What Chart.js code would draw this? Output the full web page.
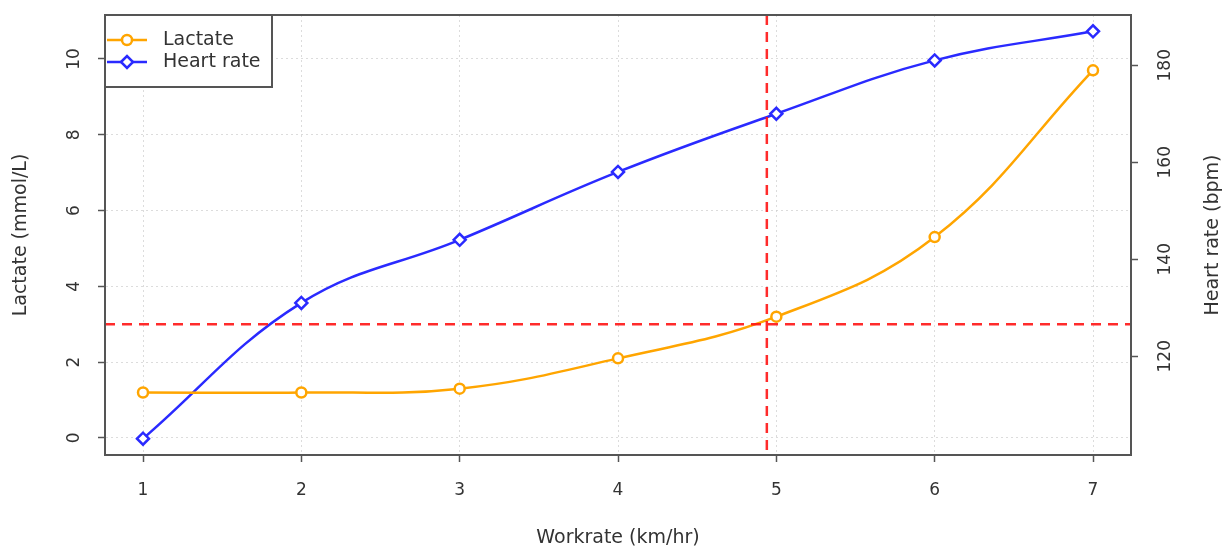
<!DOCTYPE html>
<html><head><meta charset="utf-8">
<script src="https://cdn.jsdelivr.net/npm/chart.js@4.4.0/dist/chart.umd.min.js"></script>
<style>html,body{margin:0;padding:0;background:#fff}#wrap{width:1225px;height:546px;position:relative}</style>
</head><body><div id="wrap"><canvas id="c"></canvas></div>
<script>
// ---- data ----
const workrate = [1, 2, 3, 4, 5, 6, 7];
const lactate = [1.2, 1.2, 1.3, 2.1, 3.2, 5.3, 9.7];
const heartRate = [103, 131, 144, 158, 170, 181, 187];
const xTicks = [1, 2, 3, 4, 5, 6, 7];
const lactateTicks = [0, 2, 4, 6, 8, 10];
const hrTicks = [120, 140, 160, 180];
const lactateThreshold = [3];
const thresholdWorkrate = [4.94];
const seriesNames = ['Lactate', 'Heart rate'];
const axisTitles = ['Workrate (km/hr)', 'Lactate (mmol/L)', 'Heart rate (bpm)'];

const FONT = 'DejaVu Sans';
const TXT = '#333';
const FRAME = '#555';
const TICK_SIZE = 17;
const TITLE_SIZE = 19;
Chart.defaults.font.family = FONT;
Chart.defaults.color = TXT;

const gridCommon = {color: 'rgba(205,205,205,0.7)', lineWidth: 1, tickLength: 7, tickColor: FRAME, tickWidth: 1.5};

const overlay = {
  id: 'overlay',
  afterDatasetsDraw(chart) {
    const {ctx, chartArea: a, scales} = chart;
    // threshold lines
    ctx.save();
    ctx.strokeStyle = 'rgba(255,20,20,0.9)';
    ctx.lineWidth = 2.5;
    ctx.setLineDash([10, 7]);
    lactateThreshold.forEach(v => {
      const y = scales.y.getPixelForValue(v);
      ctx.beginPath(); ctx.moveTo(a.left, y); ctx.lineTo(a.right, y); ctx.stroke();
    });
    thresholdWorkrate.forEach(v => {
      const x = scales.x.getPixelForValue(v);
      ctx.beginPath(); ctx.moveTo(x, a.top); ctx.lineTo(x, a.bottom); ctx.stroke();
    });
    ctx.restore();
    // frame
    ctx.save();
    ctx.strokeStyle = FRAME; ctx.lineWidth = 2;
    ctx.strokeRect(a.left, a.top, a.right - a.left, a.bottom - a.top);
    // legend
    const lw = 167, lh = 72;
    ctx.fillStyle = '#fff';
    ctx.fillRect(a.left, a.top, lw, lh);
    ctx.strokeRect(a.left, a.top, lw, lh);
    chart.data.datasets.forEach((ds, i) => {
      const y = a.top + 25 + i * 22;
      ctx.save();
      ctx.strokeStyle = ds.borderColor; ctx.lineWidth = ds.borderWidth;
      ctx.beginPath(); ctx.moveTo(a.left + 2, y); ctx.lineTo(a.left + 42, y); ctx.stroke();
      ctx.fillStyle = ds.pointBackgroundColor; ctx.strokeStyle = ds.borderColor; ctx.lineWidth = ds.pointBorderWidth;
      Chart.helpers.drawPoint(ctx, {pointStyle: ds.pointStyle, radius: ds.pointRadius, rotation: 0, borderWidth: ds.pointBorderWidth}, a.left + 22, y);
      ctx.restore();
      ctx.fillStyle = TXT; ctx.font = TITLE_SIZE + 'px "' + FONT + '"';
      ctx.textBaseline = 'middle'; ctx.textAlign = 'left';
      ctx.fillText(ds.label, a.left + 58, y);
    });
    // right axis title (reads bottom-to-top)
    ctx.translate(1213, (a.top + a.bottom) / 2);
    ctx.rotate(-Math.PI / 2);
    ctx.fillStyle = TXT; ctx.font = TITLE_SIZE + 'px "' + FONT + '"';
    ctx.textAlign = 'center'; ctx.textBaseline = 'middle';
    ctx.fillText(axisTitles[2], 0, 0);
    ctx.restore();
  }
};

function fixV(w) {
  return s => { s.width = w; s.paddingTop = 0; s.paddingBottom = 0; };
}

new Chart(document.getElementById('c'), {
  type: 'line',
  data: {
    datasets: [
      {
        label: seriesNames[0],
        data: workrate.map((w, i) => ({x: w, y: lactate[i]})),
        yAxisID: 'y',
        borderColor: '#FFA500', borderWidth: 2.5,
        pointStyle: 'circle', pointRadius: 5, pointBorderWidth: 2.5,
        pointBackgroundColor: '#fff', pointBorderColor: '#FFA500',
        tension: 0.4, fill: false
      },
      {
        label: seriesNames[1],
        data: workrate.map((w, i) => ({x: w, y: heartRate[i]})),
        yAxisID: 'y1',
        borderColor: '#2a2aff', borderWidth: 2.5,
        pointStyle: 'rectRot', pointRadius: 6, pointBorderWidth: 2.5,
        pointBackgroundColor: '#fff', pointBorderColor: '#2a2aff',
        tension: 0.4, fill: false
      }
    ]
  },
  options: {
    responsive: true, maintainAspectRatio: false, animation: false,
    devicePixelRatio: 1,
    layout: {padding: {top: 15, left: 0, right: 0, bottom: 0}},
    plugins: {legend: {display: false}, tooltip: {enabled: false}},
    scales: {
      x: {
        type: 'linear', min: 0.76, max: 7.24,
        afterBuildTicks: s => { s.ticks = xTicks.map(v => ({value: v})); },
        afterFit: s => { s.height = 91; s.paddingLeft = 0; s.paddingRight = 0; },
        ticks: {font: {size: TICK_SIZE}, padding: 18, color: TXT, callback: v => String(v)},
        grid: Object.assign({}, gridCommon),
        border: {display: true, color: FRAME, width: 2, dash: [2, 3]},
        title: {display: true, text: axisTitles[0], font: {size: TITLE_SIZE}, color: TXT, padding: {top: 0, bottom: -3}}
      },
      y: {
        type: 'linear', position: 'left', min: -0.45, max: 11.16,
        afterBuildTicks: s => { s.ticks = lactateTicks.map(v => ({value: v})); },
        afterFit: fixV(105),
        ticks: {font: {size: TICK_SIZE}, padding: 13, minRotation: 90, maxRotation: 90, crossAlign: 'center', color: TXT, callback: v => String(v)},
        grid: Object.assign({}, gridCommon),
        border: {display: true, color: FRAME, width: 2, dash: [2, 3]},
        title: {display: true, text: axisTitles[1], font: {size: TITLE_SIZE}, color: TXT, padding: {top: 10, bottom: 0}}
      },
      y1: {
        type: 'linear', position: 'right', min: 99.64, max: 190.36,
        afterBuildTicks: s => { s.ticks = hrTicks.map(v => ({value: v})); },
        afterFit: fixV(94),
        ticks: {font: {size: TICK_SIZE}, padding: 11, minRotation: 90, maxRotation: 90, crossAlign: 'center', color: TXT, callback: v => String(v)},
        grid: Object.assign({}, gridCommon, {drawOnChartArea: false}),
        border: {display: true, color: FRAME, width: 2},
        title: {display: false}
      }
    }
  },
  plugins: [overlay]
});
</script>
</body></html>
